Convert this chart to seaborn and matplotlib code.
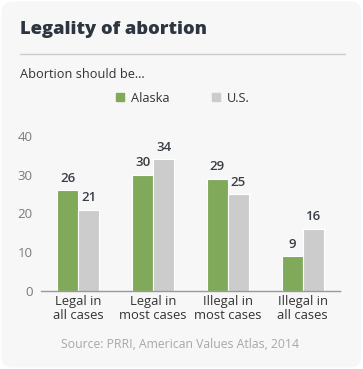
import numpy as np
import pandas as pd
import matplotlib.pyplot as plt
import seaborn as sns
from matplotlib.patches import FancyBboxPatch
from matplotlib.lines import Line2D

# données
categories = ["Legal in\nall cases", "Legal in\nmost cases", "Illegal in\nmost cases", "Illegal in\nall cases"]
alaska = [26, 30, 29, 9]
us = [21, 34, 25, 16]
series = ["Alaska", "U.S."]
yticks = [0, 10, 20, 30, 40]

df = pd.DataFrame({
    "category": categories * 2,
    "value": alaska + us,
    "region": [series[0]] * 4 + [series[1]] * 4,
})

sns.set_style("white")
plt.rcParams["font.family"] = ["Open Sans", "DejaVu Sans"]

fig = plt.figure(figsize=(3.63, 3.69), dpi=100)
fig.patch.set_facecolor("white")
bg = FancyBboxPatch((0.004, 0.004), 0.992, 0.992, boxstyle="round,pad=0,rounding_size=0.03",
                    transform=fig.transFigure, facecolor="#f7f7f7", edgecolor="none", zorder=-1)
fig.patches.append(bg)

ax = fig.add_axes([41 / 363, 1 - 291 / 369, 299 / 363, 155 / 369])
ax.set_facecolor("none")

palette = {"Alaska": "#80a95a", "U.S.": "#cccccc"}
sns.barplot(data=df, x="category", y="value", hue="region", palette=palette,
            width=0.56, edgecolor="white", linewidth=0.8, saturation=1,
            ax=ax, legend=False)

for cont in ax.containers:
    ax.bar_label(cont, padding=4, fontsize=9.5, fontweight="semibold", color="#3a3f47")

ax.set_xlim(-0.5, 3.5)
ax.set_ylim(0, 40)
ax.set_yticks(yticks)
ax.tick_params(axis="y", length=0, labelsize=9.5, labelcolor="#7a7a7a", pad=6)
ax.tick_params(axis="x", length=0, labelsize=9.4, labelcolor="#333333", pad=3)
for lab in ax.get_xticklabels():
    lab.set_linespacing(1.05)
ax.set_xlabel("")
ax.set_ylabel("")
for s in ["top", "right", "left"]:
    ax.spines[s].set_visible(False)
ax.spines["bottom"].set_color("#999999")
ax.spines["bottom"].set_linewidth(1)

# titre et séparateur
fig.text(20 / 363, 1 - 30 / 369, "Legality of abortion", fontsize=13.2, fontweight="heavy",
         color="#2d3540", va="center", ha="left")
fig.add_artist(Line2D([20 / 363, 345 / 363], [1 - 54 / 369] * 2, color="#cccccc", linewidth=1))
fig.text(20 / 363, 1 - 74 / 369, "Abortion should be...", fontsize=9.2, color="#333333",
         va="center", ha="left")

# légende
handles = [plt.Rectangle((0, 0), 1, 1, color=palette[s]) for s in series]
fig.legend(handles, series, loc="center", bbox_to_anchor=(183 / 363, 1 - 98 / 369), ncol=2,
           frameon=False, fontsize=9.2, handlelength=0.6, handleheight=0.6,
           columnspacing=3.3, handletextpad=0.6, labelcolor="#333333")

fig.text(180 / 363, 1 - 344 / 369, "Source: PRRI, American Values Atlas, 2014", fontsize=8.8,
         color="#a8a8a8", ha="center", va="center")

fig.savefig("out.png", dpi=100, facecolor="white")
